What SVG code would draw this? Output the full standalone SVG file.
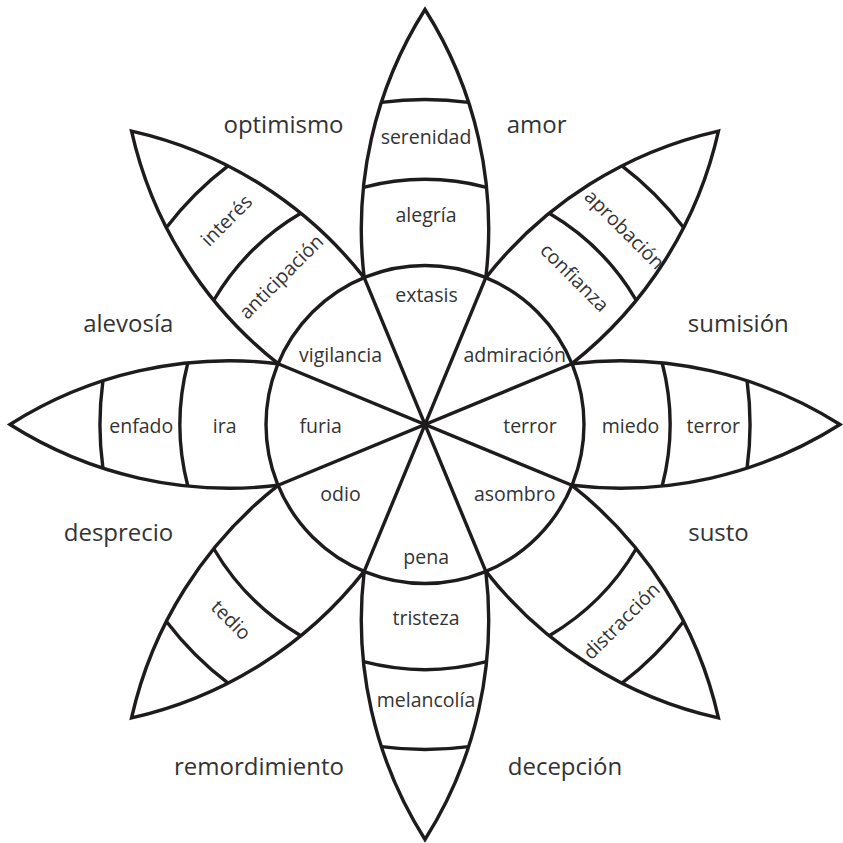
<svg xmlns="http://www.w3.org/2000/svg" width="843" height="843" viewBox="0 0 843 843">
<style>
.edge{fill:none;stroke:#1e1b1c;stroke-width:3.4;stroke-linejoin:miter;stroke-miterlimit:10}
.band{fill:none;stroke:#1e1b1c;stroke-width:3.4}
.lbl{font-family:"Open Sans","Noto Sans",sans-serif;font-size:19.5px;fill:#333;text-anchor:middle}
.out{font-family:"Open Sans","Noto Sans",sans-serif;font-size:24px;fill:#333;text-anchor:middle}
</style>
<defs>
<path id="petal" d="M -60.8,-146.9 A 410 410 0 0 1 0,-415 A 410 410 0 0 1 60.8,-146.9"/>
<path id="band1" d="M -61.5,-237.2 A 245 245 0 0 1 61.5,-237.2"/>
<path id="band2" d="M -43.6,-322.1 A 325 325 0 0 1 43.6,-322.1"/>
</defs>
<rect width="843" height="843" fill="#fff"/>

<g id="petal-joy">
<g transform="translate(425 424.5)"><use href="#petal" class="edge"/><use href="#band1" class="band"/><use href="#band2" class="band"/></g>
<text class="lbl" x="426" y="144">serenidad</text>
<text class="lbl" x="426" y="221.5">alegría</text>
</g>

<g id="petal-trust">
<g transform="translate(425 424.5) rotate(45)"><use href="#petal" class="edge"/><use href="#band1" class="band"/><use href="#band2" class="band"/></g>
<text class="lbl" transform="translate(624 230) rotate(45)" y="6">aprobación</text>
<text class="lbl" transform="translate(574 278) rotate(45)" y="6">confianza</text>
</g>

<g id="petal-fear">
<g transform="translate(425 424.5) rotate(90)"><use href="#petal" class="edge"/><use href="#band1" class="band"/><use href="#band2" class="band"/></g>
<text class="lbl" x="630.5" y="432.5">miedo</text>
<text class="lbl" x="713.3" y="432.5">terror</text>
</g>

<g id="petal-surprise">
<g transform="translate(425 424.5) rotate(135)"><use href="#petal" class="edge"/><use href="#band1" class="band"/><use href="#band2" class="band"/></g>
<text class="lbl" transform="translate(622 621.5) rotate(-45)" y="6">distracción</text>
</g>

<g id="petal-sadness">
<g transform="translate(425 424.5) rotate(180)"><use href="#petal" class="edge"/><use href="#band1" class="band"/><use href="#band2" class="band"/></g>
<text class="lbl" x="426" y="624.5">tristeza</text>
<text class="lbl" x="426" y="706.5">melancolía</text>
</g>

<g id="petal-disgust">
<g transform="translate(425 424.5) rotate(225)"><use href="#petal" class="edge"/><use href="#band1" class="band"/><use href="#band2" class="band"/></g>
<text class="lbl" transform="translate(230.5 620.5) rotate(45)" y="6">tedio</text>
</g>

<g id="petal-anger">
<g transform="translate(425 424.5) rotate(270)"><use href="#petal" class="edge"/><use href="#band1" class="band"/><use href="#band2" class="band"/></g>
<text class="lbl" x="141.3" y="432.5">enfado</text>
<text class="lbl" x="224.7" y="432.5">ira</text>
</g>

<g id="petal-anticipation">
<g transform="translate(425 424.5) rotate(315)"><use href="#petal" class="edge"/><use href="#band1" class="band"/><use href="#band2" class="band"/></g>
<text class="lbl" transform="translate(227 221) rotate(-45)" y="6">interés</text>
<text class="lbl" transform="translate(281.7 277.3) rotate(-45)" y="6">anticipación</text>
</g>

<g id="core">
<circle cx="425" cy="424.5" r="159" class="edge"/>
<text class="lbl" x="426.5" y="301.5">extasis</text>
<text class="lbl" x="340.5" y="362">vigilancia</text>
<text class="lbl" x="514.7" y="362">admiración</text>
<text class="lbl" x="320.7" y="432.5">furia</text>
<text class="lbl" x="530" y="432.5">terror</text>
<text class="lbl" x="340.5" y="500.5">odio</text>
<text class="lbl" x="514.7" y="500.5">asombro</text>
<text class="lbl" x="426.2" y="564">pena</text>
</g>

<g id="connectors" transform="translate(425 424.5)" class="band">
<line x1="60.8" y1="-146.9" x2="-60.8" y2="146.9"/>
<line x1="146.9" y1="-60.8" x2="-146.9" y2="60.8"/>
<line x1="146.9" y1="60.8" x2="-146.9" y2="-60.8"/>
<line x1="60.8" y1="146.9" x2="-60.8" y2="-146.9"/>
</g>

<g id="dyads">
<text class="out" x="283.5" y="133.3">optimismo</text>
<text class="out" x="536.7" y="133.3">amor</text>
<text class="out" x="128.3" y="331.7">alevosía</text>
<text class="out" x="738.3" y="331.7">sumisión</text>
<text class="out" x="118.5" y="540.5">desprecio</text>
<text class="out" x="718.5" y="540.5">susto</text>
<text class="out" x="259" y="775">remordimiento</text>
<text class="out" x="565" y="775">decepción</text>
</g>
</svg>
